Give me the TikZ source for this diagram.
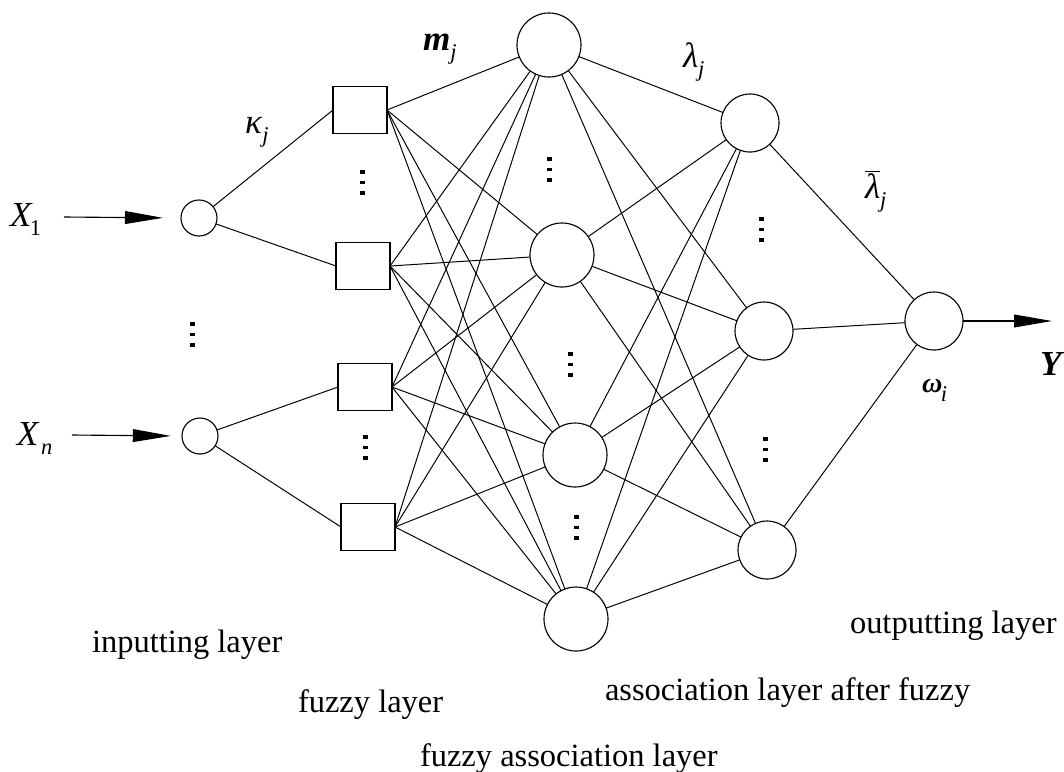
\documentclass[tikz,border=0pt]{standalone}
\usepackage{fontspec}
\setmainfont{Liberation Serif}
\usetikzlibrary{arrows.meta}
% lowered subscript in text mode
\newcommand\lsub[1]{\raisebox{-7pt}{\fontsize{16}{16}\selectfont #1}}
\begin{document}
\begin{tikzpicture}[x=0.025cm,y=-0.025cm,
  every node/.style={inner sep=0pt,outer sep=0pt},
  conn/.style={line width=0.7pt},
  shp/.style={draw,line width=0.8pt},
  incirc/.style={shp,circle,minimum size=0.9cm},
  fuzbox/.style={shp,rectangle,minimum width=1.35cm,minimum height=1.175cm},
  bigcirc/.style={shp,circle,minimum size=1.6cm},
  midcirc/.style={shp,circle,minimum size=1.45cm},
  lbl/.style={anchor=base west,font=\fontsize{23.1}{28}\selectfont},
  sym/.style={anchor=base west,font=\fontsize{25}{28}\selectfont},
  flow/.style={line width=0.8pt,-{Triangle[length=0.95cm,width=0.32cm]}},
  vdots/.pic={\foreach \k in {0,1,2} \fill (-2.5,\k*10.5) rectangle (2.5,\k*10.5+3.5);}
]
\useasboundingbox (0,0) rectangle (1064,771);

% input layer
\node[incirc] (in1) at (199,218) {};
\node[incirc] (in2) at (200,436) {};
% fuzzy layer
\node[fuzbox] (sq1) at (360,110) {};
\node[fuzbox] (sq2) at (363,266) {};
\node[fuzbox] (sq3) at (365,387) {};
\node[fuzbox] (sq4) at (368,527) {};
% fuzzy association layer
\node[bigcirc] (c1) at (549,45) {};
\node[bigcirc] (c2) at (562,255) {};
\node[bigcirc] (c3) at (575,455) {};
\node[bigcirc] (c4) at (576,619) {};
% association layer after fuzzy
\node[midcirc] (m1) at (750,123) {};
\node[midcirc] (m2) at (764,331) {};
\node[midcirc] (m3) at (767,550) {};
% output layer
\node[midcirc] (out) at (934,321) {};

% connections
\draw[conn] (in1) -- (sq1.west);
\draw[conn] (in1) -- (sq2.west);
\draw[conn] (in2) -- (sq3.west);
\draw[conn] (in2) -- (sq4.west);
\foreach \s in {sq1,sq2,sq3,sq4}
  \foreach \c in {c1,c2,c3,c4}
    \draw[conn] (\s.east) -- (\c);
\foreach \c in {c1,c2,c3,c4}
  \foreach \m in {m1,m2,m3}
    \draw[conn] (\c) -- (\m);
\foreach \m in {m1,m2,m3}
  \draw[conn] (\m) -- (out);

% inputs and output
\node[sym] (lx1) at (10,226) {\textit{X}\kern-2pt\lsub{1}};
\node[sym] (lxn) at (17,445) {\textit{X}\kern1pt\lsub{\textit{n}}};
\coordinate (a1) at (64,217);
\coordinate (a2) at (72,435);
\draw[flow,shorten >=0.45cm] (a1) -- (in1.west);
\draw[flow,shorten >=0.28cm] (a2) -- (in2.west);
\coordinate (yend) at (1052,321);
\draw[flow] (out.east) -- (yend);
\node[sym] (ly) at (1040,375) {\textbf{\textit{Y}}};

% weight labels
\node[sym] (lk) at (245,133) {\textit{κ}\lsub{\textit{j}}};
\node[sym] (lm) at (423,50) {\textbf{\textit{m}}\lsub{\textit{j}}};
\node[sym] (ll) at (683,67) {\textit{λ}\lsub{\textit{j}}};
\node[sym] (llb) at (865,198) {$\overline{\mbox{\textit{λ}}}$\lsub{\textit{j}}};
\node[sym,font=\fontsize{20}{24}\selectfont] (lw) at (922,392) {\textbf{\textit{ω}}\kern-1pt\lsub{\textit{i}}};

% ellipsis marks
\pic at (192,322) {vdots};
\pic at (362,170) {vdots};
\pic at (365,435) {vdots};
\pic at (549,157) {vdots};
\pic at (570,352) {vdots};
\pic at (576,515) {vdots};
\pic at (761,217) {vdots};
\pic at (765,437) {vdots};

% layer names
\node[lbl] (tin) at (92,652) {inputting layer};
\node[lbl] (tfz) at (298,712) {fuzzy layer};
\node[lbl] (tfa) at (420,766) {fuzzy association layer};
\node[lbl] (taf) at (605,700) {association layer after fuzzy};
\node[lbl] (tout) at (850,633) {outputting layer};
\end{tikzpicture}
\end{document}
